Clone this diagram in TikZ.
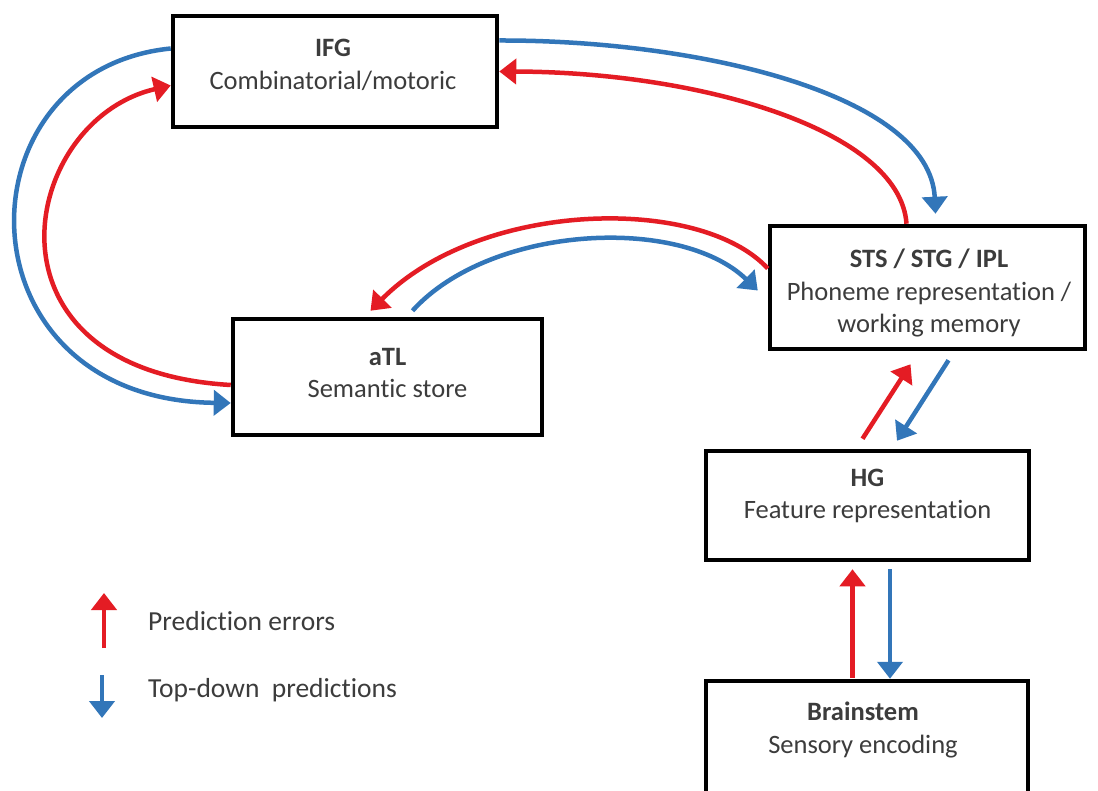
\documentclass[tikz,border=0pt]{standalone}
\usepackage{fontspec}
\setmainfont{Carlito}[Ligatures=NoCommon]
\usetikzlibrary{arrows.meta}
\definecolor{errred}{RGB}{228,28,36}
\definecolor{predblue}{RGB}{50,118,185}
\definecolor{txtgray}{RGB}{60,60,60}
\begin{document}
\begin{tikzpicture}[x=1pt,y=-1pt,
  box/.style={draw=black, line width=4.5pt, fill=white, inner sep=0pt},
  lbl/.style={align=center, text=txtgray, font=\fontsize{26.5}{32.5}\selectfont, inner sep=0pt},
  legtxt/.style={anchor=west, text=txtgray, font=\fontsize{27.5}{32}\selectfont, inner sep=0pt},
  err/.style={draw=errred, line width=4.5pt, -{Triangle[width=25pt,length=17pt]}},
  pred/.style={draw=predblue, line width=4.5pt, -{Triangle[width=25pt,length=17pt]}},
]
\useasboundingbox (0,0) rectangle (1098,791);
\fill[white] (0,0) rectangle (1098,791);

% boxes
\node[box, minimum width=324pt, minimum height=111pt] (ifg) at (335,71.5) {};
\node[box, minimum width=309pt, minimum height=116pt] (atl) at (387.5,377) {};
\node[box, minimum width=315pt, minimum height=123pt] (sts) at (927.5,287.5) {};
\node[box, minimum width=323pt, minimum height=109pt] (hg) at (867.5,505.5) {};
\node[box, minimum width=322pt, minimum height=119pt] (bs) at (867,740.5) {};

% box labels
\node[lbl] (ifgtxt) at (333,65) {\textbf{IFG}\\Combinatorial/motoric};
\node[lbl] (atltxt) at (387.5,373) {\textbf{aTL}\\Semantic store};
\node[lbl] (ststxt) at (929,293) {\textbf{STS / STG / IPL}\\Phoneme representation /\\working memory};
\node[lbl] (hgtxt) at (867.5,496) {\textbf{HG}\\Feature representation};
\node[lbl] (bstxt) at (863,730) {\textbf{Brainstem}\\Sensory encoding};

% IFG <-> aTL
\draw[pred] ([yshift=23pt]ifg.west) .. controls (-45,70) and (-45,400) .. ([yshift=-26pt]atl.west);
\draw[err] ([yshift=-8pt]atl.west) .. controls (-30,370) and (20,120) .. ([yshift=-14pt]ifg.west);

% IFG <-> STS
\draw[pred] ([yshift=31pt]ifg.east) .. controls (700,40) and (930,95) .. ([xshift=8pt,yshift=10pt]sts.north);
\draw[err] ([xshift=-21pt]sts.north) .. controls (900,130) and (700,72) .. (ifg.east);

% aTL <-> STS
\draw[err] ([yshift=19pt]sts.west) .. controls (700,195) and (480,200) .. ([xshift=-17pt,yshift=6pt]atl.north);
\draw[pred] ([xshift=25pt,yshift=6pt]atl.north) .. controls (490,225) and (680,215) .. ([xshift=-10pt,yshift=-3pt]sts.west);

% STS <-> HG
\draw[err] ([xshift=-5pt,yshift=10pt]hg.north) -- ([xshift=-17pt,yshift=-13pt]sts.south);
\draw[pred] ([xshift=21pt,yshift=-9pt]sts.south) -- ([xshift=29.5pt,yshift=8pt]hg.north);

% HG <-> Brainstem
\draw[err] ([xshift=-14.5pt,yshift=1pt]bs.north) -- ([xshift=-15pt,yshift=-7pt]hg.south);
\draw[pred] ([xshift=22.5pt,yshift=-7pt]hg.south) -- ([xshift=23pt]bs.north);

% legend
\coordinate (legerrfrom) at (104,648);
\coordinate (legerrto) at (104,593);
\coordinate (legpredfrom) at (102,675);
\coordinate (legpredto) at (102,718);
\draw[err] (legerrfrom) -- (legerrto);
\draw[pred] (legpredfrom) -- (legpredto);
\node[legtxt] (legerr) at (148,621) {Prediction errors};
\node[legtxt] (legpred) at (148,690) {Top-down\ \ predictions};
\end{tikzpicture}
\end{document}
